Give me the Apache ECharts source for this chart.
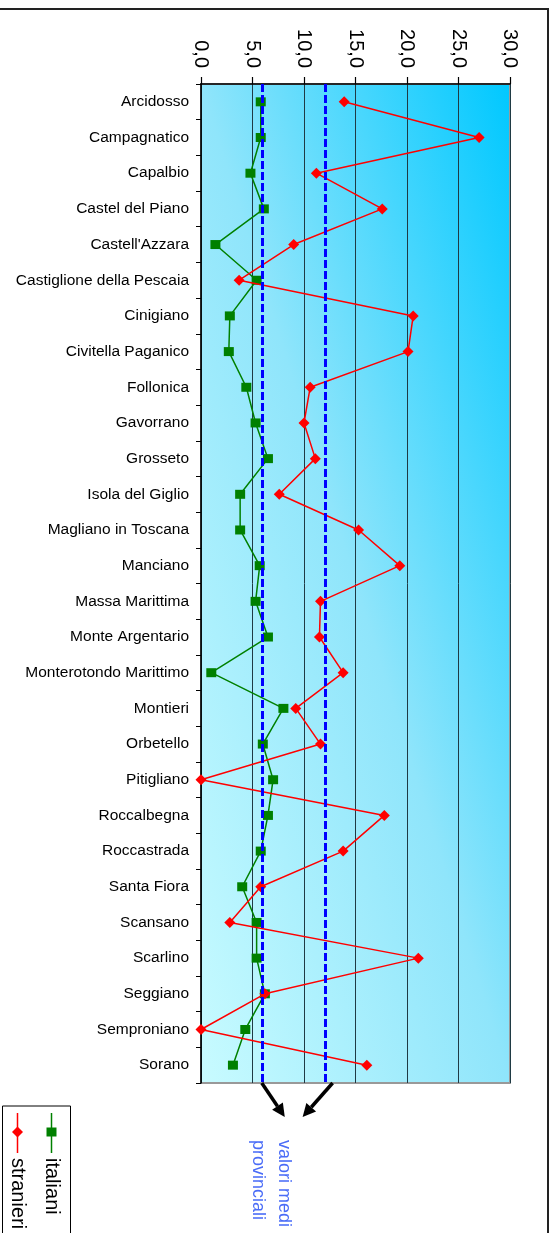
<!DOCTYPE html>
<html>
<head>
<meta charset="utf-8">
<script src="https://cdn.jsdelivr.net/npm/echarts@6/dist/echarts.min.js"></script>
<style>
html,body{margin:0;padding:0;background:#fff;}
#chart{width:556px;height:1233px;}
</style>
</head>
<body>
<div id="chart"></div>
<script>
var categories = ["Arcidosso","Campagnatico","Capalbio","Castel del Piano","Castell'Azzara","Castiglione della Pescaia","Cinigiano","Civitella Paganico","Follonica","Gavorrano","Grosseto","Isola del Giglio","Magliano in Toscana","Manciano","Massa Marittima","Monte Argentario","Monterotondo Marittimo","Montieri","Orbetello","Pitigliano","Roccalbegna","Roccastrada","Santa Fiora","Scansano","Scarlino","Seggiano","Semproniano","Sorano"];
var italiani = [5.8,5.8,4.8,6.1,1.4,5.4,2.8,2.7,4.4,5.3,6.5,3.8,3.8,5.7,5.3,6.5,1.0,8.0,6.0,7.0,6.5,5.8,4.0,5.4,5.4,6.2,4.3,3.1];
var stranieri = [13.9,27.0,11.2,17.6,9.0,3.7,20.6,20.1,10.6,10.0,11.1,7.6,15.3,19.3,11.6,11.5,13.8,9.2,11.6,0,17.8,13.8,5.8,2.8,21.1,6.2,0,16.1];
var seriesNames = ["italiani","stranieri"];
var mediaProvinciale = [5.9, 12.1];
var axisMin = 0, axisMax = 30, axisStep = 5;
var noteLines = ["valori medi","provinciali"];

var FONT = "'Liberation Sans', Arial, sans-serif";
var GREEN = "#008000", RED = "#ff0000";
var chart = echarts.init(document.getElementById('chart'), null, {renderer:'canvas'});

var option = {
  animation: false,
  backgroundColor: '#ffffff',
  textStyle: {fontFamily: FONT},
  grid: {
    left: 201, right: 46, top: 84, bottom: 150,
    show: true,
    borderColor: '#999999', borderWidth: 2,
    backgroundColor: '#8fe5fb'
  },
  xAxis: {
    type: 'value', position: 'top',
    min: axisMin, max: axisMax, interval: axisStep,
    axisLine: {show: true, lineStyle: {color: '#000', width: 1.5}},
    axisTick: {show: true, length: 7, lineStyle: {color: '#000', width: 1.2}},
    axisLabel: {
      rotate: 90, margin: 16, fontSize: 20, color: '#000', fontFamily: FONT,
      formatter: function (v) { return v.toFixed(1).replace('.', ','); }
    },
    splitLine: {show: true, lineStyle: {color: '#1f3a44', width: 1}}
  },
  yAxis: {
    type: 'category', data: categories, inverse: true,
    axisLine: {show: true, lineStyle: {color: '#000', width: 1.5}},
    axisTick: {show: true, length: 5, lineStyle: {color: '#000'}},
    axisLabel: {fontSize: 15.5, color: '#000', margin: 12, fontFamily: FONT},
    splitLine: {show: false}
  },
  series: [
    {
      name: seriesNames[0], type: 'line', data: italiani,
      symbol: 'rect', symbolSize: [10, 9],
      itemStyle: {color: GREEN},
      lineStyle: {color: GREEN, width: 1.5},
      z: 3
    },
    {
      name: seriesNames[1], type: 'line', data: stranieri,
      symbol: 'diamond', symbolSize: 11,
      itemStyle: {color: RED},
      lineStyle: {color: RED, width: 1.5},
      z: 4
    },
    {
      name: 'media', type: 'line', data: [], z: 6, silent: true,
      markLine: {
        silent: true, symbol: ['none', 'none'],
        label: {show: false},
        lineStyle: {color: '#0000ff', type: [8, 3], width: 3},
        data: mediaProvinciale.map(function (v) { return {xAxis: v}; })
      }
    }
  ]
};
chart.setOption(option);

// plot-area gradient (isolines along the TL-BR diagonal, like the stretched original)
var rect = chart.getModel().getComponent('grid').coordinateSystem.getRect();
(function () {
  var w = rect.width, h = rect.height;
  var cx = rect.x + w / 2, cy = rect.y + h / 2;
  var dx = h, dy = -w, d2 = dx * dx + dy * dy, k = (w * h) / d2;
  var grad = new echarts.graphic.LinearGradient(
    cx - k * dx, cy - k * dy, cx + k * dx, cy + k * dy, [
      {offset: 0, color: '#c8fbff'},
      {offset: 0.5, color: '#8fe5fb'},
      {offset: 1, color: '#00c8ff'}
    ], true);
  chart.setOption({grid: {backgroundColor: grad}});
})();

var yB = rect.y + rect.height;
var xa = chart.convertToPixel({xAxisIndex: 0}, mediaProvinciale[0]);
var xb = chart.convertToPixel({xAxisIndex: 0}, mediaProvinciale[1]);

function arrow(x1, y1, x2, y2) {
  var dx = x2 - x1, dy = y2 - y1, L = Math.sqrt(dx*dx + dy*dy);
  var ux = dx / L, uy = dy / L, hl = 13, hw = 6.5;
  var bx = x2 - ux * hl, by = y2 - uy * hl;
  return [
    {type: 'line', shape: {x1: x1, y1: y1, x2: bx, y2: by}, style: {stroke: '#000', lineWidth: 3.5}, z: 10},
    {type: 'polygon', shape: {points: [[x2, y2], [bx - uy * hw, by + ux * hw], [bx + uy * hw, by - ux * hw]]}, style: {fill: '#000'}, z: 10}
  ];
}

var g = [];
g = g.concat(arrow(xa, yB, xa + 23, yB + 34));
g = g.concat(arrow(xb + 7, yB, xb - 23, yB + 34));

g.push({type: 'text', x: 284, y: 1140, rotation: -Math.PI/2,
  style: {text: noteLines[0], font: '18px ' + FONT, fill: '#4a6cf7', textAlign: 'left', textVerticalAlign: 'middle'}});
g.push({type: 'text', x: 258, y: 1140, rotation: -Math.PI/2,
  style: {text: noteLines[1], font: '18px ' + FONT, fill: '#4a6cf7', textAlign: 'left', textVerticalAlign: 'middle'}});

// frame
g.push({type: 'rect', shape: {x: -10, y: 9, width: 558, height: 1300}, style: {fill: null, stroke: '#222', lineWidth: 2}, z: 1});

// legend
g.push({type: 'rect', shape: {x: 2.5, y: 1106, width: 68, height: 200}, style: {fill: '#fff', stroke: '#000', lineWidth: 1}, z: 9});
var legendCols = [{x: 51.5, color: GREEN, sym: 'rect'}, {x: 17.5, color: RED, sym: 'diamond'}];
legendCols.forEach(function (c, i) {
  g.push({type: 'line', shape: {x1: c.x, y1: 1113, x2: c.x, y2: 1153}, style: {stroke: c.color, lineWidth: 1.5}, z: 10});
  if (c.sym === 'rect') {
    g.push({type: 'rect', shape: {x: c.x - 5, y: 1127.5, width: 10, height: 9}, style: {fill: c.color}, z: 11});
  } else {
    g.push({type: 'polygon', shape: {points: [[c.x, 1126.5], [c.x + 5.5, 1132], [c.x, 1137.5], [c.x - 5.5, 1132]]}, style: {fill: c.color}, z: 11});
  }
  g.push({type: 'text', x: c.x, y: 1158, rotation: -Math.PI/2,
    style: {text: seriesNames[i], font: '20px ' + FONT, fill: '#000', textAlign: 'left', textVerticalAlign: 'middle'}, z: 11});
});

chart.setOption({graphic: {elements: g}});
</script>
</body>
</html>
